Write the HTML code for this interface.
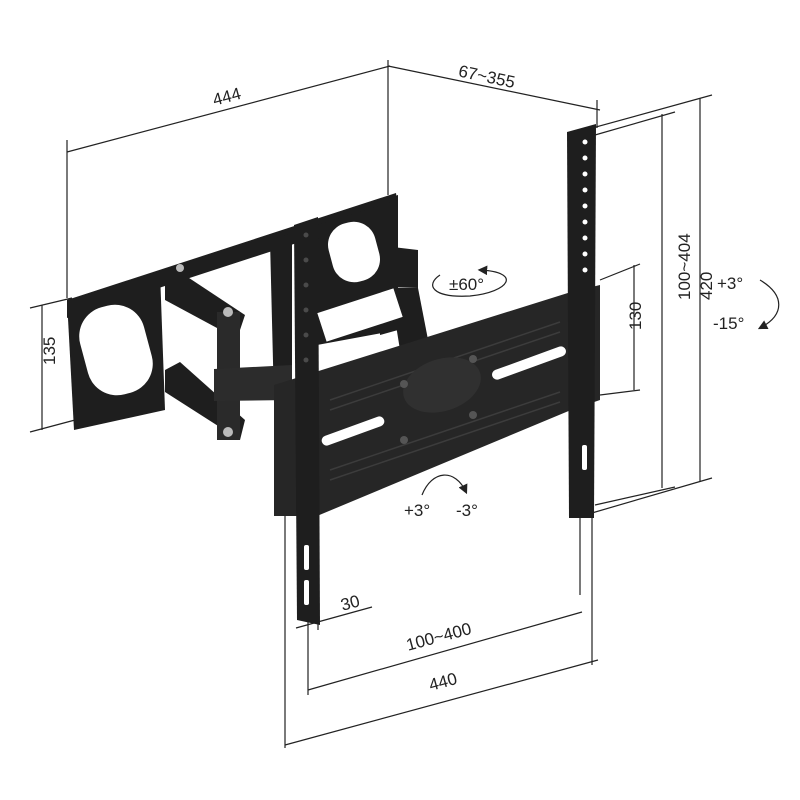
<!DOCTYPE html>
<html><head><meta charset="utf-8"><style>
html,body{margin:0;padding:0;background:#fff;}
svg{display:block}
text{font-family:"Liberation Sans",sans-serif;font-size:17px;fill:#222}
</style></head><body>
<svg width="800" height="800" viewBox="0 0 800 800" xmlns="http://www.w3.org/2000/svg">
<defs><marker id="a" markerWidth="8" markerHeight="8" refX="6" refY="4" orient="auto"><path d="M0,0 L8,4 L0,8 z" fill="#222"/></marker></defs>
<g stroke="#222" stroke-width="1.2" fill="none">
<line x1="67" y1="152" x2="390" y2="66"/>
<line x1="67" y1="140" x2="67" y2="298"/>
<line x1="388" y1="60" x2="388" y2="195"/>
<line x1="388" y1="66" x2="600" y2="110"/>
<line x1="597" y1="100" x2="597" y2="128"/>
<line x1="30" y1="308" x2="72" y2="298"/>
<line x1="30" y1="432" x2="75" y2="420"/>
<line x1="42" y1="305" x2="42" y2="430"/>
<line x1="585" y1="130" x2="712" y2="95"/>
<line x1="585" y1="515" x2="712" y2="478"/>
<line x1="700" y1="98" x2="700" y2="482"/>
<line x1="595" y1="135" x2="675" y2="112"/>
<line x1="595" y1="505" x2="675" y2="487"/>
<line x1="662" y1="114" x2="662" y2="488"/>
<line x1="600" y1="280" x2="640" y2="264"/>
<line x1="600" y1="395" x2="640" y2="390"/>
<line x1="634" y1="265" x2="634" y2="390"/>
<line x1="285" y1="505" x2="285" y2="748"/>
<line x1="592" y1="505" x2="592" y2="665"/>
<line x1="308" y1="520" x2="308" y2="695"/>
<line x1="580" y1="505" x2="580" y2="595"/>
<line x1="285" y1="745" x2="598" y2="660"/>
<line x1="308" y1="690" x2="582" y2="612"/>
<line x1="296" y1="628" x2="372" y2="607"/>
<line x1="318" y1="590" x2="318" y2="630"/>
<path d="M440,275 C425,285 432,298 470,296 C510,292 522,272 480,270" marker-end="url(#a)"/>
<path d="M760,280 C785,295 785,315 760,328" marker-end="url(#a)"/>
<path d="M422,495 C432,470 455,468 466,492" marker-end="url(#a)"/>
</g>
<!-- wall plate -->
<g fill="#1e1e1e">
<polygon points="67,300 396,193 398,210 67,318"/>
<polygon points="67,300 160,272 165,410 74,430"/>
<polygon points="270,240 292,233 292,400 274,402"/>
<polygon points="380,200 398,195 398,330 380,335"/>
<polygon points="317,225 398,200 398,330 317,345"/>
<!-- arms -->
<polygon points="165,280 180,272 245,315 240,330 230,335 165,300"/>
<polygon points="165,370 180,362 245,420 240,440 165,392"/>
<rect x="217" y="312" width="23" height="128" fill="#2a2a2a"/>
<polygon points="214,369 292,365 292,400 214,401" fill="#2c2c2c"/>
<polygon points="317,238 418,250 418,288 317,285"/>
<polygon points="390,288 418,288 430,350 400,350"/>
<!-- main bar -->
<polygon points="274,385 571,292 600,285 600,400 571,410 317,516 274,516" fill="#262626"/>
<!-- rails -->
<polygon points="294,225 318,217 320,625 297,620"/>
<polygon points="567,132 596,124 594,518 569,518"/>
</g>
<!-- holes -->
<g fill="#fff">
<rect x="83" y="305" width="66" height="90" rx="30" transform="rotate(-15 116 350)"/>
<rect x="330" y="222" width="48" height="60" rx="22" fill="#fff" transform="rotate(-15 354 252)"/>
<rect x="320" y="300" width="80" height="30" fill="#fff" transform="rotate(-18 360 315)"/>
<rect x="490" y="358" width="78" height="10" rx="5" transform="rotate(-20 529 363)"/>
<rect x="320" y="426" width="66" height="10" rx="5" transform="rotate(-20 353 431)"/>
</g>
<g stroke="#3c3c3c" stroke-width="1.5">
<line x1="330" y1="400" x2="560" y2="322"/>
<line x1="330" y1="470" x2="560" y2="392"/>
<line x1="330" y1="410" x2="560" y2="332"/>
<line x1="330" y1="480" x2="560" y2="402"/>
</g>
<ellipse cx="442" cy="385" rx="40" ry="26" fill="#303030" transform="rotate(-18 442 385)"/>
<g fill="#555">
<circle cx="404" cy="384" r="4"/><circle cx="473" cy="359" r="4"/><circle cx="473" cy="415" r="4"/><circle cx="404" cy="440" r="4"/>
</g>
<g fill="#bbb">
<circle cx="228" cy="312" r="5"/><circle cx="228" cy="432" r="5"/><circle cx="180" cy="268" r="4"/>
</g>
<g fill="#fff">
<circle cx="585" cy="142" r="2.5"/><circle cx="585" cy="158" r="2.5"/><circle cx="585" cy="174" r="2.5"/><circle cx="585" cy="190" r="2.5"/><circle cx="585" cy="206" r="2.5"/><circle cx="585" cy="222" r="2.5"/><circle cx="585" cy="238" r="2.5"/><circle cx="585" cy="254" r="2.5"/><circle cx="585" cy="270" r="2.5"/>
<rect x="582" y="445" width="5" height="25" rx="2"/>
<rect x="304" y="545" width="5" height="25" rx="2"/>
<rect x="304" y="580" width="5" height="25" rx="2"/>
</g>
<g fill="#4a4a4a">
<circle cx="306" cy="235" r="2.5"/><circle cx="306" cy="260" r="2.5"/><circle cx="306" cy="285" r="2.5"/><circle cx="306" cy="310" r="2.5"/><circle cx="306" cy="335" r="2.5"/><circle cx="306" cy="360" r="2.5"/>
</g>
<text x="213" y="106" transform="rotate(-15 213 100)">444</text>
<text x="458" y="83" transform="rotate(12 490 78)">67~355</text>
<text x="37" y="383" transform="rotate(-90 37 365)">135</text>
<text x="694" y="318" transform="rotate(-90 694 300)">420</text>
<text x="658" y="332" transform="rotate(-90 658 300)">100~404</text>
<text x="628" y="343" transform="rotate(-90 628 330)">130</text>
<text x="449" y="290">±60°</text>
<text x="717" y="289">+3°</text>
<text x="713" y="329">-15°</text>
<text x="404" y="516">+3°</text>
<text x="456" y="516">-3°</text>
<text x="340" y="608" transform="rotate(-15 352 600)">30</text>
<text x="405" y="642" transform="rotate(-15 440 635)">100~400</text>
<text x="428" y="686" transform="rotate(-15 448 678)">440</text>
</svg>
</body></html>
